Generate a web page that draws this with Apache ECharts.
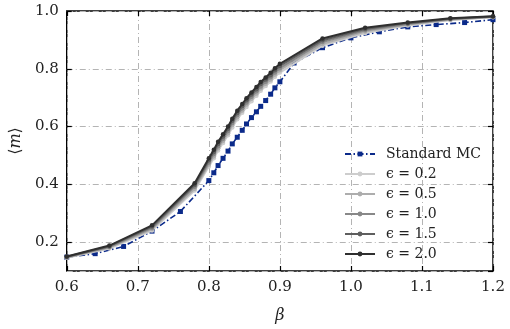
<!DOCTYPE html>
<html>
<head>
    <meta charset="UTF-8">
    <title>magnetisation</title>
    <script src="https://cdn.jsdelivr.net/npm/echarts@6/dist/echarts.min.js"></script>
</head>
<body style="margin:0">
<div id="main" style="width:510px;height:329px"></div>
<script>
    // beta grid of the Monte Carlo reference run
    var betaMC = [0.6, 0.64, 0.68, 0.72, 0.76, 0.8, 0.807, 0.813, 0.82, 0.827, 0.833, 0.84, 0.847, 0.853, 0.86, 0.867, 0.873, 0.88, 0.887, 0.893, 0.9, 0.92, 0.96, 1.0, 1.04, 1.08, 1.12, 1.16, 1.2];
    var mStandard = [0.148, 0.160, 0.185, 0.238, 0.306, 0.413, 0.440, 0.465, 0.490, 0.515, 0.540, 0.563, 0.587, 0.609, 0.631, 0.651, 0.670, 0.690, 0.712, 0.734, 0.755, 0.820, 0.873, 0.907, 0.928, 0.945, 0.953, 0.960, 0.970];

    // beta grid of the epsilon runs
    var betaEps = [0.6, 0.66, 0.72, 0.78, 0.8, 0.807, 0.813, 0.82, 0.827, 0.833, 0.84, 0.847, 0.853, 0.86, 0.867, 0.873, 0.88, 0.887, 0.893, 0.9, 0.96, 1.02, 1.08, 1.14, 1.2];
    var mEps02 = [0.146, 0.178, 0.240, 0.379, 0.462, 0.490, 0.517, 0.543, 0.570, 0.597, 0.625, 0.648, 0.668, 0.688, 0.707, 0.724, 0.740, 0.756, 0.772, 0.787, 0.880, 0.924, 0.950, 0.969, 0.978];
    var mEps05 = [0.147, 0.181, 0.245, 0.385, 0.469, 0.497, 0.525, 0.551, 0.577, 0.605, 0.632, 0.656, 0.676, 0.696, 0.714, 0.732, 0.748, 0.763, 0.780, 0.795, 0.886, 0.929, 0.953, 0.970, 0.979];
    var mEps10 = [0.148, 0.183, 0.249, 0.392, 0.476, 0.505, 0.532, 0.558, 0.585, 0.612, 0.640, 0.663, 0.683, 0.703, 0.722, 0.739, 0.755, 0.771, 0.787, 0.802, 0.893, 0.933, 0.955, 0.972, 0.980];
    var mEps15 = [0.149, 0.186, 0.254, 0.398, 0.483, 0.512, 0.540, 0.566, 0.592, 0.620, 0.647, 0.671, 0.691, 0.711, 0.729, 0.747, 0.763, 0.778, 0.795, 0.810, 0.899, 0.938, 0.958, 0.973, 0.981];
    var mEps20 = [0.150, 0.188, 0.258, 0.404, 0.490, 0.520, 0.547, 0.573, 0.600, 0.627, 0.655, 0.678, 0.698, 0.718, 0.737, 0.754, 0.770, 0.786, 0.802, 0.817, 0.905, 0.942, 0.960, 0.975, 0.982];

    var epsNames = ['ϵ = 0.2', 'ϵ = 0.5', 'ϵ = 1.0', 'ϵ = 1.5', 'ϵ = 2.0'];
    var epsValues = [mEps02, mEps05, mEps10, mEps15, mEps20];
    var epsColors = ['#cdcdcd', '#adadad', '#888888', '#5e5e5e', '#2f2f2f'];

    function pairs(xs, ys) {
        return xs.map(function (x, i) { return [x, ys[i]]; });
    }

    var serif = 'DejaVu Serif';
    var gridLine = { show: true, lineStyle: { color: '#b4b4b4', width: 1, type: [6, 3, 1, 3] } };

    var series = [{
        name: 'Standard MC',
        type: 'line',
        data: pairs(betaMC, mStandard),
        symbol: 'rect',
        symbolSize: 5,
        color: '#0b2a8a',
        lineStyle: { width: 1.6, type: [6, 2.5, 1.5, 2.5] },
        z: 2
    }];
    for (var i = 0; i < epsNames.length; i++) {
        series.push({
            name: epsNames[i],
            type: 'line',
            data: pairs(betaEps, epsValues[i]),
            symbol: 'circle',
            symbolSize: 4.5,
            color: epsColors[i],
            lineStyle: { width: 2 },
            z: 3 + i
        });
    }

    var myChart = echarts.init(document.getElementById('main'));
    myChart.setOption({
        animation: false,
        backgroundColor: '#fff',
        textStyle: { fontFamily: serif },
        grid: { left: 63, right: 17, top: 11, bottom: 55, show: true, borderColor: '#000', borderWidth: 1.5, backgroundColor: 'transparent' },
        legend: {
            orient: 'vertical',
            left: 339,
            top: 142,
            itemWidth: 30,
            itemHeight: 6,
            itemGap: 6,
            textStyle: { fontFamily: serif, fontSize: 14, color: '#222', padding: [0, 0, 0, 6] },
            data: ['Standard MC'].concat(epsNames)
        },
        xAxis: [{
            type: 'value', min: 0.6, max: 1.2, interval: 0.1,
            name: 'β', nameLocation: 'middle', nameGap: 37,
            nameTextStyle: { fontFamily: serif, fontStyle: 'italic', fontSize: 16, color: '#222' },
            axisLine: { show: false },
            axisTick: { inside: true, length: 5, lineStyle: { color: '#000', width: 1.2 } },
            axisLabel: { fontFamily: serif, fontSize: 15, color: '#222', margin: 9, formatter: function (v) { return v.toFixed(1); } },
            splitLine: gridLine
        }, {
            type: 'value', position: 'top', min: 0.6, max: 1.2, interval: 0.1,
            axisLine: { show: false },
            axisTick: { inside: true, length: 5, lineStyle: { color: '#000', width: 1.2 } },
            axisLabel: { show: false },
            splitLine: { show: false }
        }],
        yAxis: [{
            type: 'value', min: 0.1, max: 1.0, splitNumber: 5,
            name: '{a|⟨}{b|m}{a|⟩}', nameLocation: 'middle', nameGap: 41, nameRotate: 90,
            nameTextStyle: {
                color: '#222',
                rich: {
                    a: { fontFamily: serif, fontSize: 16, color: '#222' },
                    b: { fontFamily: serif, fontStyle: 'italic', fontSize: 16, color: '#222' }
                }
            },
            axisLine: { show: false },
            axisTick: { inside: true, length: 5, lineStyle: { color: '#000', width: 1.2 } },
            axisLabel: { fontFamily: serif, fontSize: 15, color: '#222', margin: 8, showMinLabel: false, formatter: function (v) { return v.toFixed(1); } },
            splitLine: gridLine
        }, {
            type: 'value', position: 'right', min: 0.1, max: 1.0, splitNumber: 5,
            axisLine: { show: false },
            axisTick: { inside: true, length: 5, lineStyle: { color: '#000', width: 1.2 } },
            axisLabel: { show: false },
            splitLine: { show: false }
        }],
        series: series
    });
</script>
</body>
</html>
